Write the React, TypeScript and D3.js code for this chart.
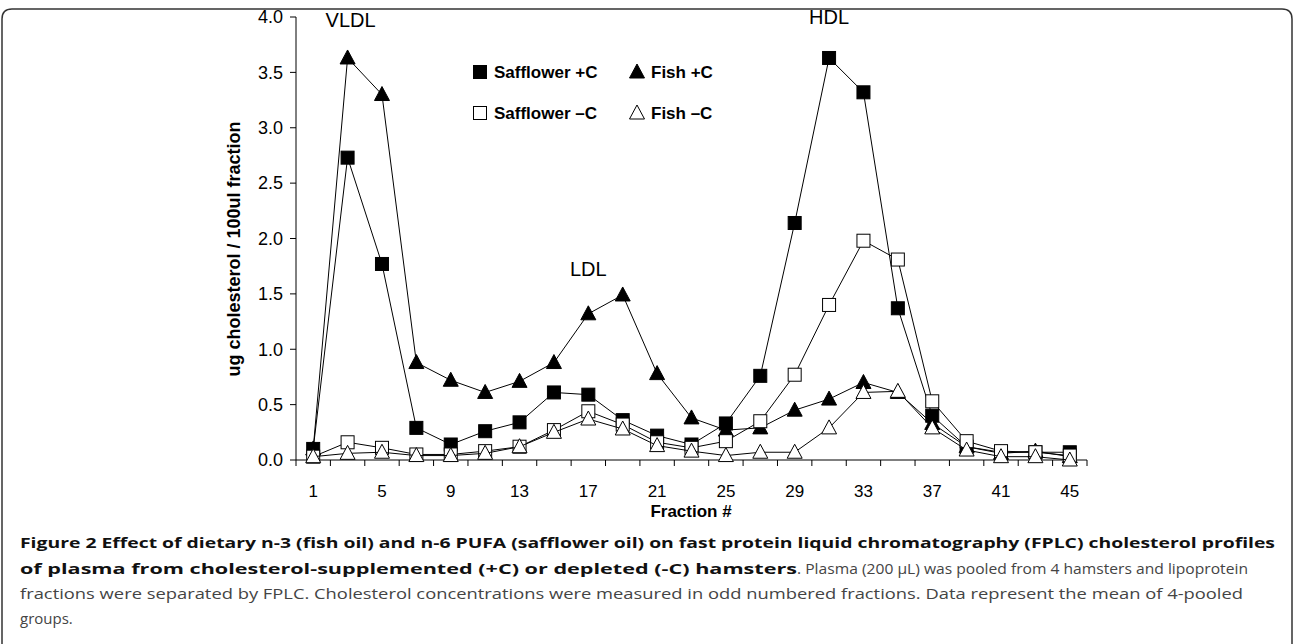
import React, { useEffect, useRef } from 'react';
import * as d3 from 'd3';

// fractions on the x axis (odd numbered only)
const fractions = [1, 3, 5, 7, 9, 11, 13, 15, 17, 19, 21, 23, 25, 27, 29, 31, 33, 35, 37, 39, 41, 43, 45];
const tickLabels = ['1', '5', '9', '13', '17', '21', '25', '29', '33', '37', '41', '45'];
const yTicks = [0, 0.5, 1, 1.5, 2, 2.5, 3, 3.5, 4];

// ug cholesterol / 100ul fraction
const safflowerPlus = [0.1, 2.73, 1.77, 0.29, 0.14, 0.26, 0.34, 0.61, 0.59, 0.36, 0.22, 0.14, 0.33, 0.76, 2.14, 3.63, 3.32, 1.37, 0.4, 0.12, 0.07, 0.07, 0.07];
const fishPlus = [0.1, 3.63, 3.3, 0.88, 0.72, 0.61, 0.71, 0.88, 1.32, 1.49, 0.78, 0.38, 0.27, 0.29, 0.45, 0.55, 0.7, 0.61, 0.33, 0.12, 0.06, 0.08, 0.03];
const safflowerMinus = [0.03, 0.16, 0.11, 0.05, 0.05, 0.08, 0.12, 0.27, 0.44, 0.32, 0.16, 0.11, 0.17, 0.35, 0.77, 1.4, 1.98, 1.81, 0.53, 0.17, 0.08, 0.07, 0.04];
const fishMinus = [0.03, 0.06, 0.07, 0.04, 0.04, 0.06, 0.12, 0.25, 0.37, 0.28, 0.13, 0.08, 0.04, 0.07, 0.07, 0.29, 0.61, 0.62, 0.29, 0.09, 0.03, 0.03, 0.0];

const seriesNames = ['Safflower +C', 'Fish +C', 'Safflower \u2013C', 'Fish \u2013C'];
const peakLabels = [
  { text: 'VLDL', fraction: 3, value: 3.91 },
  { text: 'LDL', fraction: 17, value: 1.66 },
  { text: 'HDL', fraction: 31, value: 3.94 }
];

const App: React.FC = () => {
  const ref = useRef<SVGSVGElement>(null);

  useEffect(() => {
    if (!ref.current) return;
    const svg = d3.select(ref.current);
    svg.selectAll('*').remove();

    // panel frame (rounded top corners)
    svg.append('path')
      .attr('d', 'M2,660 L2,19 Q2,9 12,9 L1282,9 Q1292,9 1292,19 L1292,660')
      .attr('fill', 'none').attr('stroke', '#333').attr('stroke-width', 1.5);

    const x = d3.scaleBand<number>().domain(fractions).range([296, 1087]).padding(0);
    const y = d3.scaleLinear().domain([0, 4]).range([460, 17]);
    const cx = (f: number) => (x(f) || 0) + x.bandwidth() / 2;
    const font = 'Arial, "Liberation Sans", sans-serif';

    const g = svg.append('g');

    // y axis
    g.append('line').attr('x1', 296).attr('x2', 296).attr('y1', y(4)).attr('y2', y(0)).attr('stroke', '#000');
    yTicks.forEach(t => {
      g.append('line').attr('x1', 290).attr('x2', 296).attr('y1', y(t)).attr('y2', y(t)).attr('stroke', '#000');
      g.append('text').attr('x', 283).attr('y', y(t)).attr('dy', '0.35em').attr('text-anchor', 'end')
        .style('font-family', font).style('font-size', '18px').text(t.toFixed(1));
    });

    // x axis with ticks between categories
    g.append('line').attr('x1', 296).attr('x2', 1087).attr('y1', y(0)).attr('y2', y(0)).attr('stroke', '#000');
    fractions.concat([47]).forEach((f, i) => {
      const xx = i < fractions.length ? (x(f) || 0) : 1087;
      g.append('line').attr('x1', xx).attr('x2', xx).attr('y1', y(0)).attr('y2', y(0) + 6).attr('stroke', '#000');
    });
    tickLabels.forEach(l => {
      g.append('text').attr('x', cx(+l)).attr('y', 497).attr('text-anchor', 'middle')
        .style('font-family', font).style('font-size', '17px').text(l);
    });
    g.append('text').attr('x', 691).attr('y', 517).attr('text-anchor', 'middle')
      .style('font-family', font).style('font-size', '17px').style('font-weight', 'bold').text('Fraction #');
    g.append('text').attr('transform', 'translate(240,249) rotate(-90)').attr('text-anchor', 'middle')
      .style('font-family', font).style('font-size', '18px').style('font-weight', 'bold')
      .text('ug cholesterol / 100ul fraction');

    const square = (filled: boolean) => (sel: any, px: number, py: number) =>
      sel.append('rect').attr('x', px - 6.5).attr('y', py - 6.5).attr('width', 13).attr('height', 13)
        .attr('fill', filled ? '#000' : '#fff').attr('stroke', '#000').attr('stroke-width', 1);
    const triangle = (filled: boolean) => (sel: any, px: number, py: number) =>
      sel.append('path').attr('d', `M${px},${py - 8} L${px + 7.5},${py + 6} L${px - 7.5},${py + 6} Z`)
        .attr('fill', filled ? '#000' : '#fff').attr('stroke', '#000').attr('stroke-width', 1);

    const series = [
      { values: safflowerPlus, marker: square(true) },
      { values: fishPlus, marker: triangle(true) },
      { values: safflowerMinus, marker: square(false) },
      { values: fishMinus, marker: triangle(false) }
    ];
    const line = d3.line<number>().x((_, i) => cx(fractions[i])).y(d => y(d));
    series.forEach(s => {
      g.append('path').attr('d', line(s.values) || '').attr('fill', 'none').attr('stroke', '#000').attr('stroke-width', 1);
      s.values.forEach((v, i) => s.marker(g, cx(fractions[i]), y(v)));
    });

    // peak labels
    peakLabels.forEach(p => {
      g.append('text').attr('x', cx(p.fraction) + (p.text === 'VLDL' ? 3 : 0)).attr('y', y(p.value)).attr('text-anchor', 'middle')
        .style('font-family', font).style('font-size', '20px').text(p.text);
    });

    // legend
    const legendPos = [[480, 72], [637, 72], [480, 113], [637, 113]];
    series.forEach((s, i) => {
      const [lx, ly] = legendPos[i];
      s.marker(g, lx, ly);
      g.append('text').attr('x', lx + (i % 2 ? 14 : 14)).attr('y', ly).attr('dy', '0.35em')
        .style('font-family', font).style('font-size', '17px').style('font-weight', 'bold').text(seriesNames[i]);
    });

    // caption
    const cf = '"Open Sans", "Noto Sans", sans-serif';
    const cap = svg.append('g').style('font-family', cf).style('font-size', '15px');
    cap.append('text').attr('x', 20).attr('y', 548).attr('textLength', 1255).attr('lengthAdjust', 'spacingAndGlyphs')
      .style('font-weight', 'bold').attr('fill', '#111')
      .text('Figure 2 Effect of dietary n-3 (fish oil) and n-6 PUFA (safflower oil) on fast protein liquid chromatography (FPLC) cholesterol profiles');
    cap.append('text').attr('x', 20).attr('y', 574).attr('textLength', 777).attr('lengthAdjust', 'spacingAndGlyphs')
      .style('font-weight', 'bold').attr('fill', '#111')
      .text('of plasma from cholesterol-supplemented (+C) or depleted (-C) hamsters');
    cap.append('text').attr('x', 797).attr('y', 574).attr('textLength', 451).attr('lengthAdjust', 'spacingAndGlyphs')
      .attr('fill', '#444')
      .text('. Plasma (200 \u00b5L) was pooled from 4 hamsters and lipoprotein');
    cap.append('text').attr('x', 20).attr('y', 599).attr('textLength', 1223).attr('lengthAdjust', 'spacingAndGlyphs')
      .attr('fill', '#444')
      .text('fractions were separated by FPLC. Cholesterol concentrations were measured in odd numbered fractions. Data represent the mean of 4-pooled');
    cap.append('text').attr('x', 20).attr('y', 624).attr('fill', '#444').text('groups.');
  }, []);

  return <svg ref={ref} width={1293} height={644} style={{ display: 'block', position: 'absolute', left: 0, top: 0, background: '#fff' }} />;
};

export default App;
